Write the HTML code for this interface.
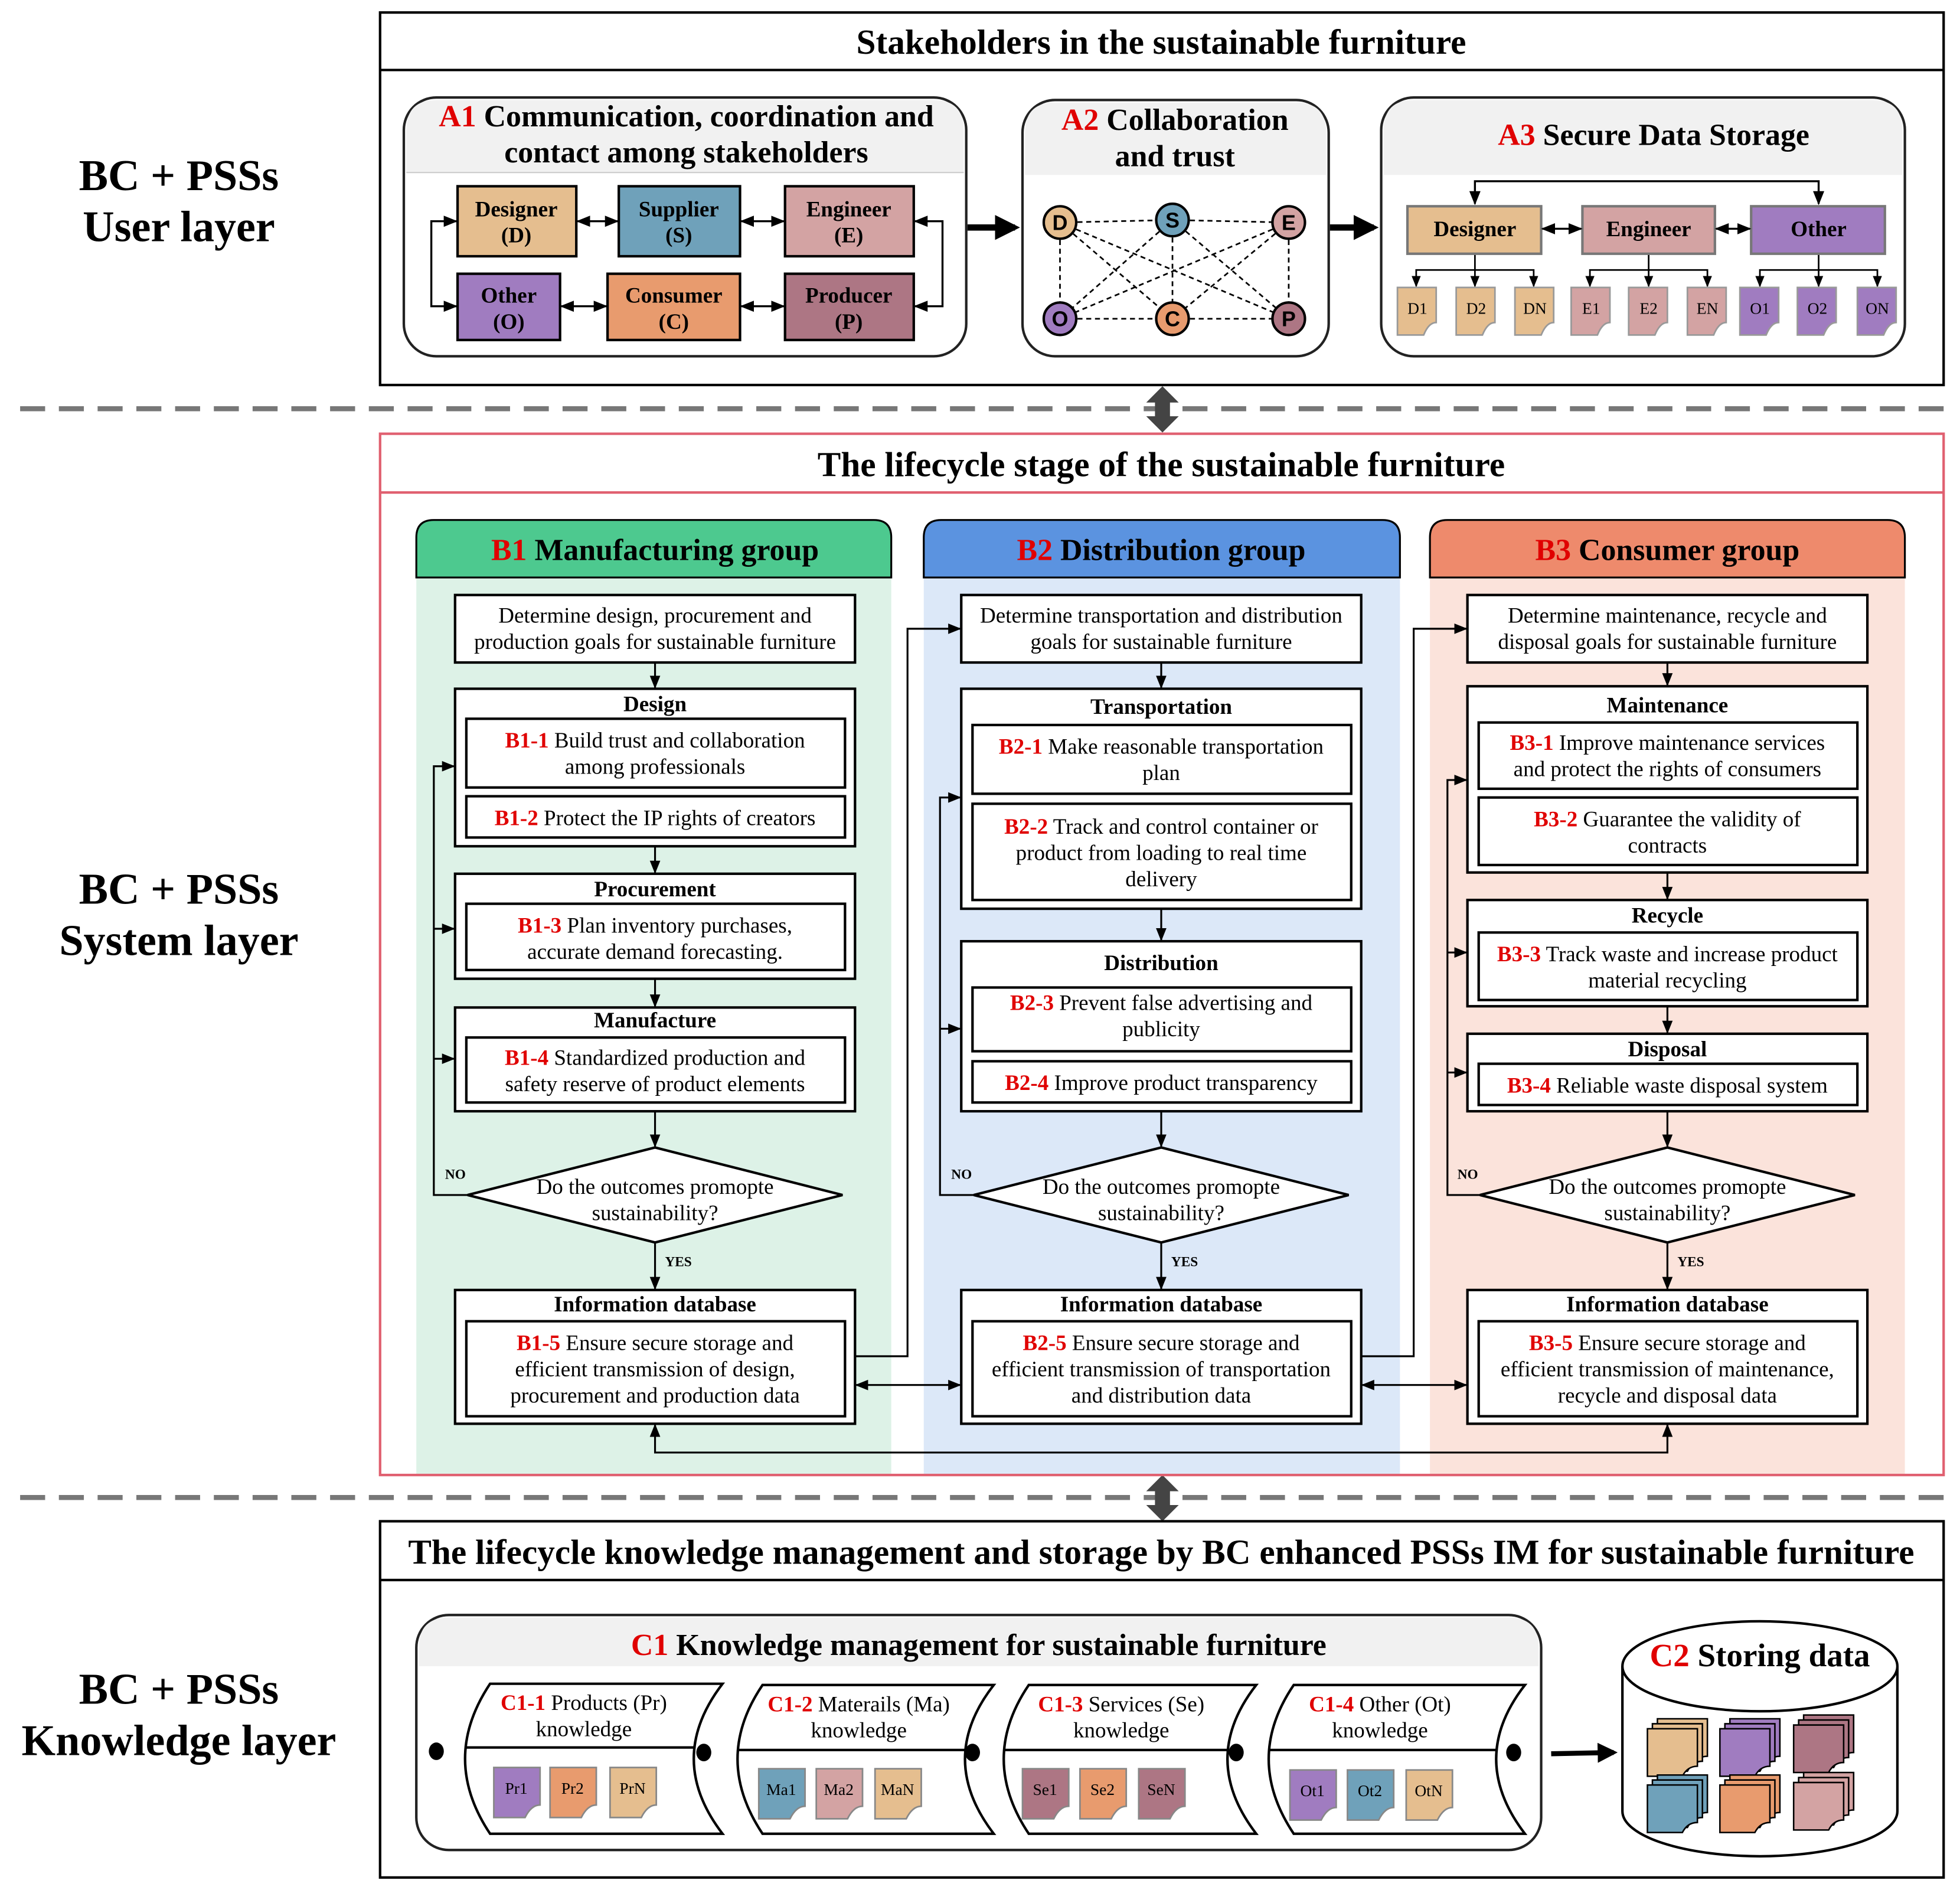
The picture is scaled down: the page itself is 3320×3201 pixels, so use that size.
<!DOCTYPE html>
<html><head><meta charset="utf-8"><style>
html,body{margin:0;padding:0;background:#fff}
svg{display:block}
text{font-family:"Liberation Serif",serif;fill:#000}
.b{font-weight:bold}
.r{fill:#e00000}
</style></head><body>
<svg width="3320" height="3201" viewBox="0 0 1568 1512" xmlns="http://www.w3.org/2000/svg">
<defs>
<marker id="a" viewBox="0 0 10 10" refX="9" refY="5" markerWidth="7" markerHeight="7" orient="auto-start-reverse"><path d="M0,1 L10,5 L0,9 Z" fill="#000"/></marker>
<marker id="A" viewBox="0 0 10 10" refX="8" refY="5" markerWidth="4" markerHeight="4" orient="auto"><path d="M0,0 L10,5 L0,10 Z" fill="#000"/></marker>
</defs>

<!-- Left labels -->
<g class="b" font-size="35" text-anchor="middle">
<text x="143" y="152" class="b">BC + PSSs</text><text x="143" y="193" class="b">User layer</text>
<text x="143" y="723" class="b">BC + PSSs</text><text x="143" y="764" class="b">System layer</text>
<text x="143" y="1363" class="b">BC + PSSs</text><text x="143" y="1404" class="b">Knowledge layer</text>
</g>

<!-- ===== TOP ===== -->
<rect x="304" y="10" width="1251" height="298" fill="#fff" stroke="#000" stroke-width="2"/>
<line x1="304" y1="56" x2="1555" y2="56" stroke="#000" stroke-width="2"/>
<text x="929" y="43" font-size="28" class="b" text-anchor="middle">Stakeholders in the sustainable furniture</text>

<!-- A1 -->
<rect x="323" y="78" width="450" height="207" rx="26" fill="#fff" stroke="#222" stroke-width="2"/>
<path d="M325,138 V104 Q325,80 349,80 H747 Q771,80 771,104 V138 Z" fill="#f1f1f1"/>
<line x1="325" y1="138" x2="771" y2="138" stroke="#ccc"/>
<text x="549" y="101" font-size="24.5" class="b" text-anchor="middle"><tspan class="r">A1</tspan> Communication, coordination and</text>
<text x="549" y="130" font-size="24.5" class="b" text-anchor="middle">contact among stakeholders</text>
<g stroke="#000" stroke-width="2" font-size="16">
<rect x="366" y="149" width="95" height="56" fill="#E5BE8F"/>
<rect x="495" y="149" width="97" height="56" fill="#6FA1BA"/>
<rect x="628" y="149" width="103" height="56" fill="#D3A3A3"/>
<rect x="366" y="219" width="82" height="53" fill="#A07CC0"/>
<rect x="486" y="219" width="106" height="53" fill="#E89B6E"/>
<rect x="628" y="219" width="103" height="53" fill="#AD7684"/>
</g>
<g font-size="17.5" class="b" text-anchor="middle">
<text x="413" y="173" class="b">Designer</text><text x="413" y="194" class="b">(D)</text>
<text x="543" y="173" class="b">Supplier</text><text x="543" y="194" class="b">(S)</text>
<text x="679" y="173" class="b">Engineer</text><text x="679" y="194" class="b">(E)</text>
<text x="407" y="242" class="b">Other</text><text x="407" y="263" class="b">(O)</text>
<text x="539" y="242" class="b">Consumer</text><text x="539" y="263" class="b">(C)</text>
<text x="679" y="242" class="b">Producer</text><text x="679" y="263" class="b">(P)</text>
</g>
<g stroke="#000" stroke-width="1.6" fill="none" marker-start="url(#a)" marker-end="url(#a)">
<line x1="462" y1="177" x2="494" y2="177"/><line x1="593" y1="177" x2="627" y2="177"/>
<line x1="449" y1="245" x2="485" y2="245"/><line x1="593" y1="245" x2="627" y2="245"/>
<path d="M365,177 H345 V245 H365"/><path d="M732,177 H754 V245 H732"/>
</g>
<line x1="774" y1="182" x2="812" y2="182" stroke="#000" stroke-width="5" marker-end="url(#A)"/>

<!-- A2 -->
<rect x="818" y="80" width="245" height="205" rx="26" fill="#fff" stroke="#222" stroke-width="2"/>
<path d="M820,140 V106 Q820,82 844,82 H1037 Q1061,82 1061,106 V140 Z" fill="#f1f1f1"/>
<text x="940" y="104" font-size="24.5" class="b" text-anchor="middle"><tspan class="r">A2</tspan> Collaboration</text>
<text x="940" y="133" font-size="24.5" class="b" text-anchor="middle">and trust</text>
<g stroke="#000" stroke-width="1.3" stroke-dasharray="4,3">
<line x1="848" y1="178" x2="938" y2="176"/><line x1="938" y1="176" x2="1031" y2="178"/>
<line x1="848" y1="255" x2="938" y2="255"/><line x1="938" y1="255" x2="1031" y2="255"/>
<line x1="848" y1="178" x2="848" y2="255"/><line x1="938" y1="176" x2="938" y2="255"/><line x1="1031" y1="178" x2="1031" y2="255"/>
<line x1="848" y1="178" x2="938" y2="255"/><line x1="848" y1="178" x2="1031" y2="255"/>
<line x1="938" y1="176" x2="848" y2="255"/><line x1="938" y1="176" x2="1031" y2="255"/>
<line x1="1031" y1="178" x2="848" y2="255"/><line x1="1031" y1="178" x2="938" y2="255"/>
</g>
<g stroke="#000" stroke-width="2">
<circle cx="848" cy="178" r="13" fill="#E5BE8F"/><circle cx="938" cy="176" r="13" fill="#6FA1BA"/><circle cx="1031" cy="178" r="13" fill="#D3A3A3"/>
<circle cx="848" cy="255" r="13" fill="#A07CC0"/><circle cx="938" cy="255" r="13" fill="#E89B6E"/><circle cx="1031" cy="255" r="13" fill="#AD7684"/>
</g>
<g font-size="17" font-weight="bold" text-anchor="middle">
<text x="848" y="184" style="font-family:'Liberation Sans',sans-serif">D</text><text x="938" y="182" style="font-family:'Liberation Sans',sans-serif">S</text><text x="1031" y="184" style="font-family:'Liberation Sans',sans-serif">E</text>
<text x="848" y="261" style="font-family:'Liberation Sans',sans-serif">O</text><text x="938" y="261" style="font-family:'Liberation Sans',sans-serif">C</text><text x="1031" y="261" style="font-family:'Liberation Sans',sans-serif">P</text>
</g>
<line x1="1064" y1="182" x2="1099" y2="182" stroke="#000" stroke-width="5" marker-end="url(#A)"/>

<!-- A3 -->
<rect x="1105" y="78" width="419" height="207" rx="26" fill="#fff" stroke="#222" stroke-width="2"/>
<path d="M1107,140 V104 Q1107,80 1131,80 H1498 Q1522,80 1522,104 V140 Z" fill="#f1f1f1"/>
<text x="1323" y="116" font-size="24.5" class="b" text-anchor="middle"><tspan class="r">A3</tspan> Secure Data Storage</text>
<path d="M1180,163 V145 H1455 V163" fill="none" stroke="#000" stroke-width="1.6" marker-start="url(#a)" marker-end="url(#a)"/>
<g stroke="#777" stroke-width="2">
<rect x="1126" y="165" width="107" height="38" fill="#E5BE8F"/>
<rect x="1266" y="165" width="106" height="38" fill="#D3A3A3"/>
<rect x="1401" y="165" width="107" height="38" fill="#A07CC0"/>
</g>
<g font-size="17.5" class="b" text-anchor="middle">
<text x="1180" y="189" class="b">Designer</text><text x="1319" y="189" class="b">Engineer</text><text x="1455" y="189" class="b">Other</text>
</g>
<g stroke="#000" stroke-width="1.6" fill="none" marker-start="url(#a)" marker-end="url(#a)">
<line x1="1234" y1="183" x2="1265" y2="183"/><line x1="1373" y1="183" x2="1400" y2="183"/>
</g>
<g stroke="#000" stroke-width="1.3" fill="none">
<line x1="1180" y1="204" x2="1180" y2="229" marker-end="url(#a)"/><path d="M1133,229 V216 H1227 V229" marker-start="url(#a)" marker-end="url(#a)"/>
<line x1="1319" y1="204" x2="1319" y2="229" marker-end="url(#a)"/><path d="M1272,229 V216 H1366 V229" marker-start="url(#a)" marker-end="url(#a)"/>
<line x1="1455" y1="204" x2="1455" y2="229" marker-end="url(#a)"/><path d="M1408,229 V216 H1502 V229" marker-start="url(#a)" marker-end="url(#a)"/>
</g>
<g stroke="#999" stroke-width="1.3">
<path d="M1118,230 h31 v28 q-6,0 -10,10 h-21 z" fill="#E5BE8F"/>
<path d="M1165,230 h31 v28 q-6,0 -10,10 h-21 z" fill="#E5BE8F"/>
<path d="M1212,230 h31 v28 q-6,0 -10,10 h-21 z" fill="#E5BE8F"/>
<path d="M1257,230 h31 v28 q-6,0 -10,10 h-21 z" fill="#D3A3A3"/>
<path d="M1303,230 h31 v28 q-6,0 -10,10 h-21 z" fill="#D3A3A3"/>
<path d="M1350,230 h31 v28 q-6,0 -10,10 h-21 z" fill="#D3A3A3"/>
<path d="M1392,230 h31 v28 q-6,0 -10,10 h-21 z" fill="#A07CC0"/>
<path d="M1438,230 h31 v28 q-6,0 -10,10 h-21 z" fill="#A07CC0"/>
<path d="M1486,230 h31 v28 q-6,0 -10,10 h-21 z" fill="#A07CC0"/>
</g>
<g font-size="13" text-anchor="middle">
<text x="1134" y="251">D1</text><text x="1181" y="251">D2</text><text x="1228" y="251">DN</text>
<text x="1273" y="251">E1</text><text x="1319" y="251">E2</text><text x="1366" y="251">EN</text>
<text x="1408" y="251">O1</text><text x="1454" y="251">O2</text><text x="1502" y="251">ON</text>
</g>

<!-- separators -->
<line x1="16" y1="327" x2="1555" y2="327" stroke="#777" stroke-width="4" stroke-dasharray="20,11"/>
<line x1="16" y1="1198" x2="1555" y2="1198" stroke="#777" stroke-width="4" stroke-dasharray="20,11"/>
<path d="M930,309 L943,322 H936 V333 H943 L930,346 L917,333 H924 V322 H917 Z" fill="#444"/>
<path d="M930,1180 L943,1193 H936 V1204 H943 L930,1217 L917,1204 H924 V1193 H917 Z" fill="#444"/>

<!-- ===== MIDDLE ===== -->
<rect x="304" y="347" width="1251" height="833" fill="#fff" stroke="#E06070" stroke-width="2"/>
<line x1="304" y1="394" x2="1555" y2="394" stroke="#E06070" stroke-width="2"/>
<text x="929" y="381" font-size="28" class="b" text-anchor="middle">The lifecycle stage of the sustainable furniture</text>

<rect x="333" y="440" width="380" height="739" fill="#DDF2E7"/>
<rect x="739" y="440" width="381" height="739" fill="#DCE8F8"/>
<rect x="1144" y="440" width="380" height="739" fill="#FBE3DB"/>
<path d="M333,462 V430 Q333,416 347,416 H699 Q713,416 713,430 V462 Z" fill="#4DC98F" stroke="#000" stroke-width="1.5"/>
<path d="M739,462 V430 Q739,416 753,416 H1106 Q1120,416 1120,430 V462 Z" fill="#5B93E0" stroke="#000" stroke-width="1.5"/>
<path d="M1144,462 V430 Q1144,416 1158,416 H1510 Q1524,416 1524,430 V462 Z" fill="#EE8A6C" stroke="#000" stroke-width="1.5"/>
<g font-size="24.5" class="b" text-anchor="middle">
<text x="524" y="448" class="b"><tspan class="r">B1</tspan> Manufacturing group</text>
<text x="929" y="448" class="b"><tspan class="r">B2</tspan> Distribution group</text>
<text x="1334" y="448" class="b"><tspan class="r">B3</tspan> Consumer group</text>
</g>

<g fill="#fff" stroke="#000" stroke-width="2">
<rect x="364" y="476" width="320" height="54"/>
<rect x="364" y="551" width="320" height="126"/><rect x="373" y="575" width="303" height="55"/><rect x="373" y="637" width="303" height="33"/>
<rect x="364" y="699" width="320" height="84"/><rect x="373" y="723" width="303" height="53"/>
<rect x="364" y="806" width="320" height="83"/><rect x="373" y="830" width="303" height="52"/>
<path d="M374,956 L524,918 L674,956 L524,994 Z"/>
<rect x="364" y="1032" width="320" height="107"/><rect x="373" y="1057" width="303" height="76"/>
<rect x="769" y="476" width="320" height="54"/>
<rect x="769" y="551" width="320" height="176"/><rect x="778" y="580" width="303" height="55"/><rect x="778" y="643" width="303" height="77"/>
<rect x="769" y="753" width="320" height="136"/><rect x="778" y="790" width="303" height="51"/><rect x="778" y="849" width="303" height="33"/>
<path d="M779,956 L929,918 L1079,956 L929,994 Z"/>
<rect x="769" y="1032" width="320" height="107"/><rect x="778" y="1057" width="303" height="76"/>
<rect x="1174" y="476" width="320" height="54"/>
<rect x="1174" y="549" width="320" height="149"/><rect x="1183" y="578" width="303" height="53"/><rect x="1183" y="638" width="303" height="54"/>
<rect x="1174" y="720" width="320" height="85"/><rect x="1183" y="746" width="303" height="54"/>
<rect x="1174" y="827" width="320" height="62"/><rect x="1183" y="851" width="303" height="33"/>
<path d="M1184,956 L1334,918 L1484,956 L1334,994 Z"/>
<rect x="1174" y="1032" width="320" height="107"/><rect x="1183" y="1057" width="303" height="76"/>
</g>

<g font-size="17.5" text-anchor="middle">
<text x="524" y="498">Determine design, procurement and</text><text x="524" y="519">production goals for sustainable furniture</text>
<text x="524" y="569" class="b">Design</text>
<text x="524" y="598"><tspan class="r b">B1-1</tspan> Build trust and collaboration</text><text x="524" y="619">among professionals</text>
<text x="524" y="660"><tspan class="r b">B1-2</tspan> Protect the IP rights of creators</text>
<text x="524" y="717" class="b">Procurement</text>
<text x="524" y="746"><tspan class="r b">B1-3</tspan> Plan inventory purchases,</text><text x="524" y="767">accurate demand forecasting.</text>
<text x="524" y="822" class="b">Manufacture</text>
<text x="524" y="852"><tspan class="r b">B1-4</tspan> Standardized production and</text><text x="524" y="873">safety reserve of product elements</text>
<text x="524" y="955">Do the outcomes promopte</text><text x="524" y="976">sustainability?</text>
<text x="524" y="1049" class="b">Information database</text>
<text x="524" y="1080"><tspan class="r b">B1-5</tspan> Ensure secure storage and</text><text x="524" y="1101">efficient transmission of design,</text><text x="524" y="1122">procurement and production data</text>
<text x="929" y="498">Determine transportation and distribution</text><text x="929" y="519">goals for sustainable furniture</text>
<text x="929" y="571" class="b">Transportation</text>
<text x="929" y="603"><tspan class="r b">B2-1</tspan> Make reasonable transportation</text><text x="929" y="624">plan</text>
<text x="929" y="667"><tspan class="r b">B2-2</tspan> Track and control container or</text><text x="929" y="688">product from loading to real time</text><text x="929" y="709">delivery</text>
<text x="929" y="776" class="b">Distribution</text>
<text x="929" y="808"><tspan class="r b">B2-3</tspan> Prevent false advertising and</text><text x="929" y="829">publicity</text>
<text x="929" y="872"><tspan class="r b">B2-4</tspan> Improve product transparency</text>
<text x="929" y="955">Do the outcomes promopte</text><text x="929" y="976">sustainability?</text>
<text x="929" y="1049" class="b">Information database</text>
<text x="929" y="1080"><tspan class="r b">B2-5</tspan> Ensure secure storage and</text><text x="929" y="1101">efficient transmission of transportation</text><text x="929" y="1122">and distribution data</text>
<text x="1334" y="498">Determine maintenance, recycle and</text><text x="1334" y="519">disposal goals for sustainable furniture</text>
<text x="1334" y="570" class="b">Maintenance</text>
<text x="1334" y="600"><tspan class="r b">B3-1</tspan> Improve  maintenance services</text><text x="1334" y="621">and protect the rights of consumers</text>
<text x="1334" y="661"><tspan class="r b">B3-2</tspan> Guarantee the validity of</text><text x="1334" y="682">contracts</text>
<text x="1334" y="738" class="b">Recycle</text>
<text x="1334" y="769"><tspan class="r b">B3-3</tspan> Track waste and increase product</text><text x="1334" y="790">material recycling</text>
<text x="1334" y="845" class="b">Disposal</text>
<text x="1334" y="874"><tspan class="r b">B3-4</tspan> Reliable waste disposal system</text>
<text x="1334" y="955">Do the outcomes promopte</text><text x="1334" y="976">sustainability?</text>
<text x="1334" y="1049" class="b">Information database</text>
<text x="1334" y="1080"><tspan class="r b">B3-5</tspan> Ensure secure storage and</text><text x="1334" y="1101">efficient transmission of maintenance,</text><text x="1334" y="1122">recycle and disposal data</text>
</g>
<g font-size="11" class="b">
<text x="356" y="943" class="b">NO</text><text x="532" y="1013" class="b">YES</text>
<text x="761" y="943" class="b">NO</text><text x="937" y="1013" class="b">YES</text>
<text x="1166" y="943" class="b">NO</text><text x="1342" y="1013" class="b">YES</text>
</g>

<g stroke="#000" stroke-width="1.5" fill="none" marker-end="url(#a)">
<line x1="524" y1="530" x2="524" y2="550"/><line x1="524" y1="677" x2="524" y2="698"/><line x1="524" y1="783" x2="524" y2="805"/>
<line x1="524" y1="889" x2="524" y2="917"/><line x1="524" y1="994" x2="524" y2="1031"/>
<line x1="929" y1="530" x2="929" y2="550"/><line x1="929" y1="727" x2="929" y2="752"/>
<line x1="929" y1="889" x2="929" y2="917"/><line x1="929" y1="994" x2="929" y2="1031"/>
<line x1="1334" y1="530" x2="1334" y2="548"/><line x1="1334" y1="698" x2="1334" y2="719"/><line x1="1334" y1="805" x2="1334" y2="826"/>
<line x1="1334" y1="889" x2="1334" y2="917"/><line x1="1334" y1="994" x2="1334" y2="1031"/>
<path d="M374,956 H347 V613 H363"/><line x1="347" y1="743" x2="363" y2="743"/><line x1="347" y1="847" x2="363" y2="847"/>
<path d="M779,956 H752 V638 H768"/><line x1="752" y1="823" x2="768" y2="823"/>
<path d="M1184,956 H1158 V624 H1173"/><line x1="1158" y1="762" x2="1173" y2="762"/><line x1="1158" y1="858" x2="1173" y2="858"/>
<path d="M684,1085 H726 V503 H768"/><path d="M1089,1085 H1131 V503 H1173"/>
<line x1="685" y1="1108" x2="768" y2="1108" marker-start="url(#a)"/><line x1="1090" y1="1108" x2="1173" y2="1108" marker-start="url(#a)"/>
<path d="M524,1140 V1162 H1334 V1140" marker-start="url(#a)"/>
</g>

<!-- ===== BOTTOM ===== -->
<rect x="304" y="1217" width="1251" height="285" fill="#fff" stroke="#000" stroke-width="2"/>
<line x1="304" y1="1264" x2="1555" y2="1264" stroke="#000" stroke-width="2"/>
<text x="929" y="1251" font-size="28" class="b" text-anchor="middle">The lifecycle knowledge management and storage by BC enhanced PSSs IM for sustainable furniture</text>

<rect x="333" y="1292" width="900" height="188" rx="26" fill="#fff" stroke="#222" stroke-width="2"/>
<path d="M335,1333 V1318 Q335,1294 359,1294 H1207 Q1231,1294 1231,1318 V1333 Z" fill="#f1f1f1"/>
<text x="783" y="1324" font-size="24.5" class="b" text-anchor="middle"><tspan class="r">C1</tspan> Knowledge management for sustainable furniture</text>

<g stroke="#000" stroke-width="2" fill="#fff">
<path d="M392,1347 H578 Q532,1407 578,1467 H392 Q352,1407 392,1347 Z"/>
<path d="M610,1348 H795 Q749,1407 795,1467 H610 Q570,1407 610,1348 Z"/>
<path d="M823,1348 H1005 Q959,1407 1005,1467 H823 Q783,1407 823,1348 Z"/>
<path d="M1035,1348 H1220 Q1174,1407 1220,1467 H1035 Q995,1407 1035,1348 Z"/>
<line x1="372" y1="1398" x2="556" y2="1398"/><line x1="590" y1="1400" x2="773" y2="1400"/>
<line x1="803" y1="1400" x2="983" y2="1400"/><line x1="1015" y1="1400" x2="1198" y2="1400"/>
</g>
<g fill="#000"><ellipse cx="349" cy="1401" rx="6" ry="7"/><ellipse cx="563" cy="1402" rx="6" ry="7"/><ellipse cx="778" cy="1402" rx="6" ry="7"/><ellipse cx="989" cy="1402" rx="6" ry="7"/><ellipse cx="1211" cy="1402" rx="6" ry="7"/></g>
<g font-size="17.5" text-anchor="middle">
<text x="467" y="1368"><tspan class="r b">C1-1</tspan> Products (Pr)</text><text x="467" y="1389">knowledge</text>
<text x="687" y="1369"><tspan class="r b">C1-2</tspan> Materails (Ma)</text><text x="687" y="1390">knowledge</text>
<text x="897" y="1369"><tspan class="r b">C1-3</tspan> Services  (Se)</text><text x="897" y="1390">knowledge</text>
<text x="1104" y="1369"><tspan class="r b">C1-4</tspan> Other  (Ot)</text><text x="1104" y="1390">knowledge</text>
</g>
<g stroke="#888" stroke-width="1.3">
<path d="M395,1414 h37 v30 q-7,0 -12,10 h-25 z" fill="#A07CC0"/>
<path d="M440,1414 h37 v30 q-7,0 -12,10 h-25 z" fill="#E89B6E"/>
<path d="M488,1414 h37 v30 q-7,0 -12,10 h-25 z" fill="#E5BE8F"/>
<path d="M607,1415 h37 v30 q-7,0 -12,10 h-25 z" fill="#6FA1BA"/>
<path d="M653,1415 h37 v30 q-7,0 -12,10 h-25 z" fill="#D3A3A3"/>
<path d="M700,1415 h37 v30 q-7,0 -12,10 h-25 z" fill="#E5BE8F"/>
<path d="M818,1415 h37 v30 q-7,0 -12,10 h-25 z" fill="#AD7684"/>
<path d="M864,1415 h37 v30 q-7,0 -12,10 h-25 z" fill="#E89B6E"/>
<path d="M911,1415 h37 v30 q-7,0 -12,10 h-25 z" fill="#AD7684"/>
<path d="M1032,1416 h37 v30 q-7,0 -12,10 h-25 z" fill="#A07CC0"/>
<path d="M1078,1416 h37 v30 q-7,0 -12,10 h-25 z" fill="#6FA1BA"/>
<path d="M1125,1416 h37 v30 q-7,0 -12,10 h-25 z" fill="#E5BE8F"/>
</g>
<g font-size="13" text-anchor="middle">
<text x="413" y="1435">Pr1</text><text x="458" y="1435">Pr2</text><text x="506" y="1435">PrN</text>
<text x="625" y="1436">Ma1</text><text x="671" y="1436">Ma2</text><text x="718" y="1436">MaN</text>
<text x="836" y="1436">Se1</text><text x="882" y="1436">Se2</text><text x="929" y="1436">SeN</text>
<text x="1050" y="1437">Ot1</text><text x="1096" y="1437">Ot2</text><text x="1143" y="1437">OtN</text>
</g>
<line x1="1241" y1="1403" x2="1291" y2="1402" stroke="#000" stroke-width="4" marker-end="url(#A)"/>

<!-- C2 cylinder -->
<path d="M1298,1333 V1449 A110,36 0 0 0 1518,1449 V1333" fill="#fff" stroke="#000" stroke-width="2"/>
<ellipse cx="1408" cy="1333" rx="110" ry="36" fill="#fff" stroke="#000" stroke-width="2"/>
<text x="1408" y="1333" font-size="26" class="b" text-anchor="middle"><tspan class="r">C2</tspan> Storing data</text>
<g stroke="#000" stroke-width="1.2">
<g fill="#E5BE8F"><path d="M1326,1375 h40 v30 q-8,0 -12,8 h-28z"/><path d="M1322,1379 h40 v30 q-8,0 -12,8 h-28z"/><path d="M1318,1383 h40 v30 q-8,0 -12,8 h-28z"/></g>
<g fill="#A07CC0"><path d="M1384,1375 h40 v30 q-8,0 -12,8 h-28z"/><path d="M1380,1379 h40 v30 q-8,0 -12,8 h-28z"/><path d="M1376,1383 h40 v30 q-8,0 -12,8 h-28z"/></g>
<g fill="#AD7684"><path d="M1443,1372 h40 v30 q-8,0 -12,8 h-28z"/><path d="M1439,1376 h40 v30 q-8,0 -12,8 h-28z"/><path d="M1435,1380 h40 v30 q-8,0 -12,8 h-28z"/></g>
<g fill="#6FA1BA"><path d="M1326,1420 h40 v30 q-8,0 -12,8 h-28z"/><path d="M1322,1424 h40 v30 q-8,0 -12,8 h-28z"/><path d="M1318,1428 h40 v30 q-8,0 -12,8 h-28z"/></g>
<g fill="#E89B6E"><path d="M1384,1420 h40 v30 q-8,0 -12,8 h-28z"/><path d="M1380,1424 h40 v30 q-8,0 -12,8 h-28z"/><path d="M1376,1428 h40 v30 q-8,0 -12,8 h-28z"/></g>
<g fill="#D3A3A3"><path d="M1443,1418 h40 v30 q-8,0 -12,8 h-28z"/><path d="M1439,1422 h40 v30 q-8,0 -12,8 h-28z"/><path d="M1435,1426 h40 v30 q-8,0 -12,8 h-28z"/></g>
</g>
</svg>
</body></html>
